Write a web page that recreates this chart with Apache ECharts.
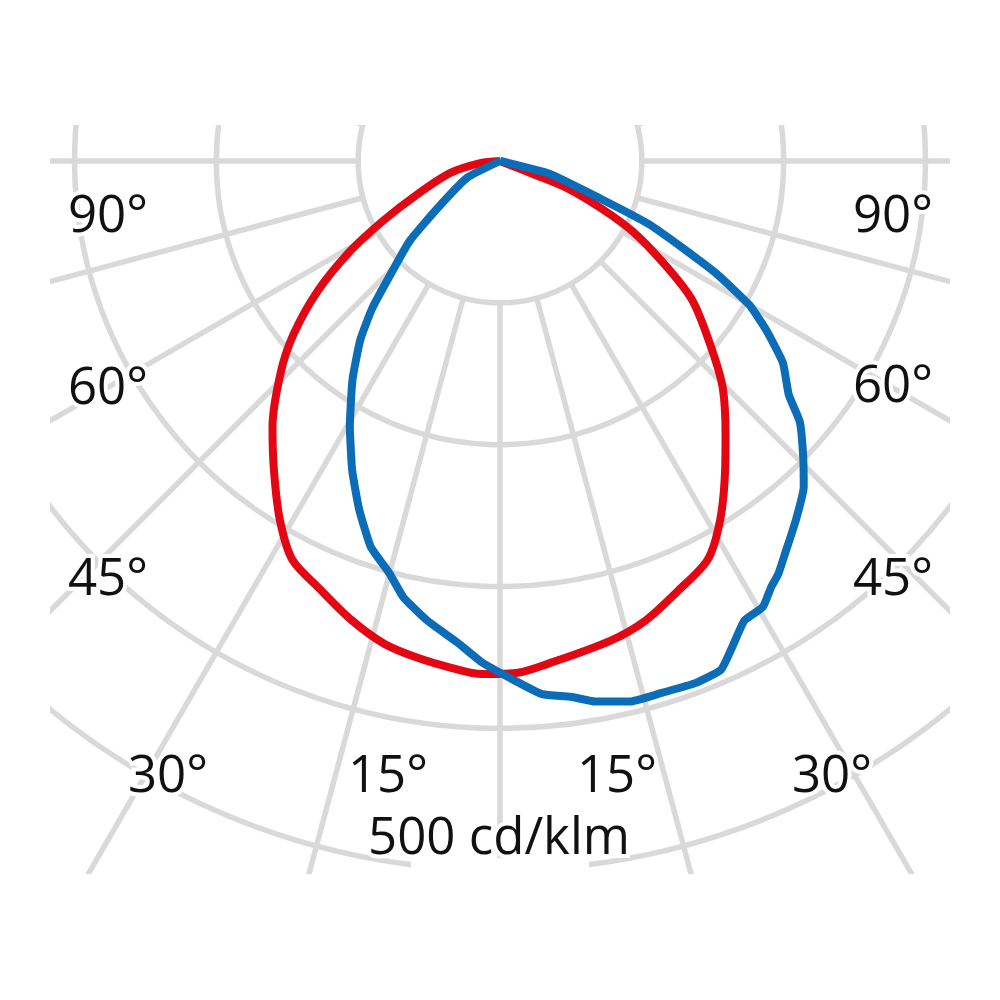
<!DOCTYPE html>
<html>
<head>
<meta charset="utf-8">
<title>Light distribution</title>
<script src="https://cdn.jsdelivr.net/npm/echarts@6/dist/echarts.min.js"></script>
<style>
  html, body { margin: 0; background: #fff; }
  #main { width: 1000px; height: 1000px; }
</style>
</head>
<body>
<div id="main"></div>
<script>
// gamma angle in degrees (0 = straight down, negative = left side), intensity in cd/klm
var redAngles = [-90, -84, -76.5, -68, -63, -59, -54.5, -50, -46, -40.5, -36, -31.5, -27.5, -23, -18, -13.5, -9.5, -5.5, -2,
  2, 5.5, 13, 17.5, 22.5, 27.5, 31.5, 36, 39.5, 44.5, 48.5, 54, 57.5, 62, 65, 68, 68.5, 90];
var redValues = [0, 14, 36, 63, 92, 123, 158, 190, 215, 247, 271, 297, 317, 327, 340, 350, 355, 359, 362,
  361, 356, 347, 340, 328, 317, 297, 270, 250, 224, 199, 168, 140, 106, 78, 51, 25, 0];

var blueAngles = [-90, -63, -53, -48.5, -44, -41, -38, -34, -29.5, -25.5, -22, -18.5, -15, -12.5, -9, -5, -2,
  1.5, 4.5, 7.5, 10, 13.5, 17, 20.5, 23.5, 25.5, 28, 30.5, 32.5, 34, 36, 39.5, 43, 46, 49, 51, 54.5, 57.5, 60,
  62.5, 64.5, 67, 69.5, 75.5, 90];
var blueValues = [0, 26, 55, 85, 111, 137, 160, 186, 215, 242, 265, 287, 301, 315, 328, 341, 354,
  366, 377, 381, 387, 392, 392, 393, 391, 380, 367, 365, 356, 351, 342, 328, 314, 297, 280, 262, 245, 223, 203,
  172, 143, 114, 75, 36, 0];

var angleLabels = ['90°', '60°', '45°', '30°', '15°', '15°', '30°', '45°', '60°', '90°'];
var scaleLabel = '500 cd/klm';

var chart = echarts.init(document.getElementById('main'), null, { renderer: 'svg' });

function pairs(vals, angs) {
  return vals.map(function (v, i) { return [v, angs[i]]; });
}

var gridColor = '#d9d9d9';
var center = [500, 161];

function angleAxis(idx, showSplit) {
  return {
    polarIndex: idx,
    type: 'value',
    min: -180,
    max: 180,
    interval: 15,
    startAngle: 90,
    clockwise: false,
    axisLine: { show: false },
    axisTick: { show: false },
    axisLabel: { show: false },
    splitLine: { show: showSplit, lineStyle: { color: gridColor, width: 5.5 } }
  };
}

// label spots (layout only)
var spots = [[108, 212], [108, 384], [108, 575], [168, 772], [388, 772],
             [617, 772], [832, 772], [893, 575], [893, 382], [893, 212]];

var textStyle = {
  fill: '#111',
  fontSize: 51,
  lineHeight: 44,
  fontFamily: 'Open Sans',
  stroke: '#fff',
  lineWidth: 8,
  align: 'center',
  verticalAlign: 'middle',
  textAlign: 'center',
  textVerticalAlign: 'middle'
};

var graphics = [
  // mask everything outside the plotting window
  { type: 'rect', z: 50, shape: { x: 0, y: 0, width: 1000, height: 125 }, style: { fill: '#fff' } },
  { type: 'rect', z: 50, shape: { x: 0, y: 874, width: 1000, height: 126 }, style: { fill: '#fff' } },
  { type: 'rect', z: 50, shape: { x: 0, y: 0, width: 50, height: 1000 }, style: { fill: '#fff' } },
  { type: 'rect', z: 50, shape: { x: 950, y: 0, width: 50, height: 1000 }, style: { fill: '#fff' } },
  { type: 'rect', z: 50, shape: { x: 411, y: 858, width: 178, height: 20 }, style: { fill: '#fff' } }
];
angleLabels.forEach(function (t, i) {
  graphics.push({ type: 'text', z: 60, x: spots[i][0], y: spots[i][1],
    style: Object.assign({ text: t }, textStyle) });
});
graphics.push({ type: 'text', z: 60, x: 499, y: 834,
  style: Object.assign({ text: scaleLabel }, textStyle) });

chart.setOption({
  animation: false,
  backgroundColor: '#fff',
  polar: [
    { center: center, radius: [0, 851] },
    { center: center, radius: [142, 851] }
  ],
  angleAxis: [angleAxis(0, false), angleAxis(1, true)],
  radiusAxis: [
    {
      polarIndex: 0, type: 'value', min: 0, max: 600, interval: 100,
      axisLine: { show: false }, axisTick: { show: false }, axisLabel: { show: false },
      splitLine: { show: true, lineStyle: { color: gridColor, width: 5.5 } }
    },
    { polarIndex: 1, type: 'value', show: false, splitLine: { show: false } }
  ],
  series: [
    {
      type: 'line', coordinateSystem: 'polar', polarIndex: 0,
      data: pairs(redValues, redAngles), symbol: 'none', smooth: 0.3, clip: false,
      lineStyle: { color: '#e30613', width: 8 }
    },
    {
      type: 'line', coordinateSystem: 'polar', polarIndex: 0,
      data: pairs(blueValues, blueAngles), symbol: 'none', smooth: 0.15, clip: false,
      lineStyle: { color: '#0b6cb7', width: 8 }
    }
  ],
  graphic: graphics
});
</script>
</body>
</html>
